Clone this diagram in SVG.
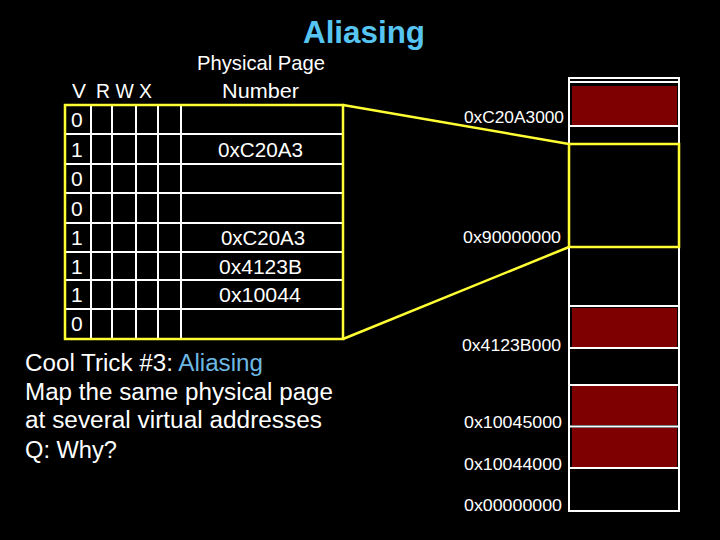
<svg xmlns="http://www.w3.org/2000/svg" width="720" height="540" viewBox="0 0 720 540">
<style>
text{font-family:"Liberation Sans",Arial,sans-serif;fill:#fff}
.h{font-size:21px}
.d{font-size:21px}
.p{font-size:20px}
.m{font-size:17px}
.b{font-size:23px}
.w{stroke:#fff;stroke-width:2;fill:none}
.y{stroke:#FFFF33;stroke-width:2.5;fill:none}
.red{fill:#7F0000}
</style>
<rect x="0" y="0" width="720" height="540" fill="#000"/>
<text id="title" x="303" y="43" font-size="32" font-weight="bold" style="fill:#57C5F2" textLength="122" lengthAdjust="spacingAndGlyphs">Aliasing</text>

<g id="page-table">
  <text class="h" x="197" y="70" textLength="128" lengthAdjust="spacingAndGlyphs">Physical Page</text>
  <text class="h" x="222" y="98" textLength="77" lengthAdjust="spacingAndGlyphs">Number</text>
  <text class="h" x="72" y="98">V</text>
  <text class="h" x="96" y="98" textLength="56" lengthAdjust="spacingAndGlyphs">R W X</text>
  <g class="w">
    <path d="M65 134H343M65 164H343M65 193H343M65 223H343M65 252H343M65 280H343M65 309H343"/>
    <path d="M91 105V338M112 105V338M136 105V338M158 105V338M181 105V338"/>
  </g>
  <rect class="y" x="65" y="105" width="278" height="234"/>
  <g class="d">
    <text x="71" y="127">0</text>
    <text x="71" y="157">1</text>
    <text x="71" y="186">0</text>
    <text x="71" y="216">0</text>
    <text x="71" y="245">1</text>
    <text x="71" y="274">1</text>
    <text x="71" y="302">1</text>
    <text x="71" y="331">0</text>
  </g>
  <text class="p" x="218" y="157" textLength="85" lengthAdjust="spacingAndGlyphs">0xC20A3</text>
  <text class="p" x="221" y="245" textLength="84" lengthAdjust="spacingAndGlyphs">0xC20A3</text>
  <text class="p" x="219" y="274" textLength="83" lengthAdjust="spacingAndGlyphs">0x4123B</text>
  <text class="p" x="219" y="302" textLength="82" lengthAdjust="spacingAndGlyphs">0x10044</text>
</g>

<g id="connectors">
  <path class="y" d="M343 105L569 144"/>
  <path class="y" d="M343 339L569 247"/>
</g>

<g id="memory">
  <rect class="red" x="572" y="86" width="105" height="39"/>
  <rect class="red" x="572" y="308" width="105" height="39"/>
  <rect class="red" x="572" y="386" width="105" height="39"/>
  <rect class="red" x="572" y="428" width="105" height="39"/>
  <path class="w" d="M570 82H678M570 126H678M570 306H678M570 348H678M570 385H678M570 426.5H678M570 468H678"/>
  <rect class="w" x="569" y="78" width="110" height="433"/>
  <rect class="y" x="569" y="144" width="110" height="103"/>
  <g class="m">
    <text x="464" y="123" textLength="100" lengthAdjust="spacingAndGlyphs">0xC20A3000</text>
    <text x="463" y="243" textLength="98" lengthAdjust="spacingAndGlyphs">0x90000000</text>
    <text x="462" y="351" textLength="99" lengthAdjust="spacingAndGlyphs">0x4123B000</text>
    <text x="464" y="428" textLength="98" lengthAdjust="spacingAndGlyphs">0x10045000</text>
    <text x="464" y="470" textLength="98" lengthAdjust="spacingAndGlyphs">0x10044000</text>
    <text x="464" y="511" textLength="98" lengthAdjust="spacingAndGlyphs">0x00000000</text>
  </g>
</g>

<g id="caption" class="b">
  <text x="25" y="371" textLength="238" lengthAdjust="spacingAndGlyphs">Cool Trick #3: <tspan style="fill:#6DB9E3">Aliasing</tspan></text>
  <text x="25" y="400" textLength="308" lengthAdjust="spacingAndGlyphs">Map the same physical page</text>
  <text x="25" y="428" textLength="297" lengthAdjust="spacingAndGlyphs">at several virtual addresses</text>
  <text x="25" y="458" textLength="92" lengthAdjust="spacingAndGlyphs">Q: Why?</text>
</g>
</svg>
